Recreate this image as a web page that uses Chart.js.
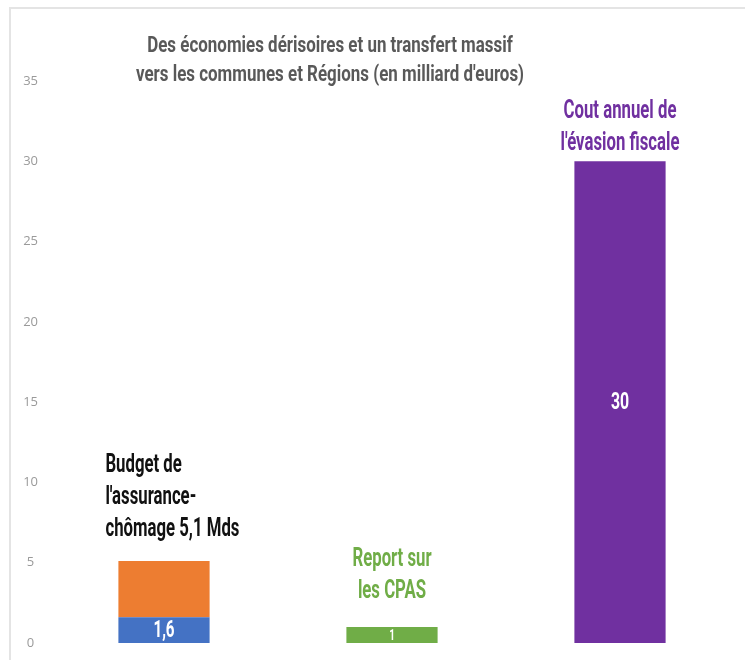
<!DOCTYPE html>
<html>
<head>
<meta charset="utf-8">
<script src="https://cdn.jsdelivr.net/npm/chart.js@4"></script>
<style>
  body { margin: 0; background: #fff; }
  #wrap { position: relative; width: 745px; height: 660px; }
  #frame { position: absolute; left: 9px; top: 7px; right: 0; bottom: 0;
           border-left: 2px solid #e4e4e4; border-top: 2px solid #e4e4e4; pointer-events: none; }
</style>
</head>
<body>
<div id="wrap">
  <canvas id="myChart" width="745" height="660"></canvas>
  <div id="frame"></div>
</div>
<script>
// data
const categories = ['Assurance-chômage', 'CPAS', 'Évasion fiscale']
const economies = [1.6, null, null]
const resteBudget = [3.5, null, null]
const reportCpas = [null, 1, null]
const evasion = [null, null, 30]
const yTicks = [0, 5, 10, 15, 20, 25, 30, 35]

const titleLines = ['Des économies dérisoires et un transfert massif',
                    "vers les communes et Régions (en milliard d'euros)"]
const budgetNote = ['Budget de', "l'assurance-", 'chômage 5,1 Mds']
const cpasNote = ['Report sur', 'les CPAS']
const evasionNote = ['Cout annuel de', "l'évasion fiscale"]

const condensed = 'Roboto, sans-serif'

// notes sit above the top of a given dataset's bar
const notes = [
    {dataset: 1, lines: budgetNote, color: '#111111', align: 'left', dx: -13, gap: 31},
    {dataset: 2, lines: cpasNote, color: '#70ad47', align: 'center', dx: 0, gap: 35},
    {dataset: 3, lines: evasionNote, color: '#7030a0', align: 'center', dx: 0, gap: 18},
]

// draw text squeezed horizontally, to look like a condensed face
function narrowText(ctx, text, x, y, sx) {
    ctx.save()
    ctx.scale(sx, 1)
    ctx.fillText(text, x / sx, y)
    ctx.restore()
}

const labelsPlugin = {
    id: 'labels',
    afterDatasetsDraw(chart) {
        const ctx = chart.ctx
        ctx.save()
        ctx.textBaseline = 'middle'

        // value labels inside bars
        chart.data.datasets.forEach((ds, i) => {
            if (!ds.showValue) return
            const meta = chart.getDatasetMeta(i)
            meta.data.forEach((bar, j) => {
                const v = ds.data[j]
                if (v === null) return
                ctx.fillStyle = '#ffffff'
                ctx.font = 'bold ' + ds.valueSize + 'px ' + condensed
                ctx.textAlign = 'center'
                narrowText(ctx, String(v).replace('.', ','), bar.x, (bar.y + bar.base) / 2 + 1, 0.66)
            })
        })

        // notes above bars
        notes.forEach((n) => {
            const ds = chart.data.datasets[n.dataset]
            const meta = chart.getDatasetMeta(n.dataset)
            const j = ds.data.findIndex((v) => v !== null)
            const bar = meta.data[j]
            ctx.font = 'bold 25px ' + condensed
            ctx.fillStyle = n.color
            ctx.textAlign = n.align
            const x = n.align === 'left' ? bar.x - bar.width / 2 + n.dx : bar.x
            const last = n.lines.length - 1
            n.lines.forEach((line, k) => {
                narrowText(ctx, line, x, bar.y - n.gap - (last - k) * 32, 0.67)
            })
        })

        // title
        ctx.font = 'bold 22px ' + condensed
        ctx.fillStyle = '#595959'
        ctx.textAlign = 'center'
        titleLines.forEach((line, k) => {
            narrowText(ctx, line, 330, 46 + k * 29, 0.77)
        })
        ctx.restore()
    }
}

const ctx = document.getElementById('myChart')
const myChart = new Chart(ctx, {
    type: 'bar',
    data: {
        labels: categories,
        datasets: [
            {label: 'Économies', data: economies, backgroundColor: '#4472c4', showValue: true, valueSize: 23},
            {label: 'Reste du budget', data: resteBudget, backgroundColor: '#ed7d31'},
            {label: 'Report sur les CPAS', data: reportCpas, backgroundColor: '#70ad47', showValue: true, valueSize: 15},
            {label: 'Évasion fiscale', data: evasion, backgroundColor: '#7030a0', showValue: true, valueSize: 24},
        ]
    },
    options: {
        responsive: false,
        animation: false,
        layout: {padding: {left: 12, right: 11, top: 81, bottom: 17}},
        datasets: {bar: {categoryPercentage: 0.4, barPercentage: 1}},
        plugins: {
            legend: {display: false},
            tooltip: {enabled: false}
        },
        scales: {
            x: {stacked: true, display: false},
            y: {
                stacked: true,
                min: 0,
                max: 35,
                afterBuildTicks: (scale) => { scale.ticks = yTicks.map((v) => ({value: v})) },
                afterFit: (scale) => { scale.width = 38 },
                grid: {display: false},
                border: {display: false},
                ticks: {
                    color: '#9a9a9a',
                    crossAlign: 'center',
                    padding: 4,
                    font: {family: '"Open Sans", sans-serif', size: 13}
                }
            }
        }
    },
    plugins: [labelsPlugin]
})
</script>
</body>
</html>
